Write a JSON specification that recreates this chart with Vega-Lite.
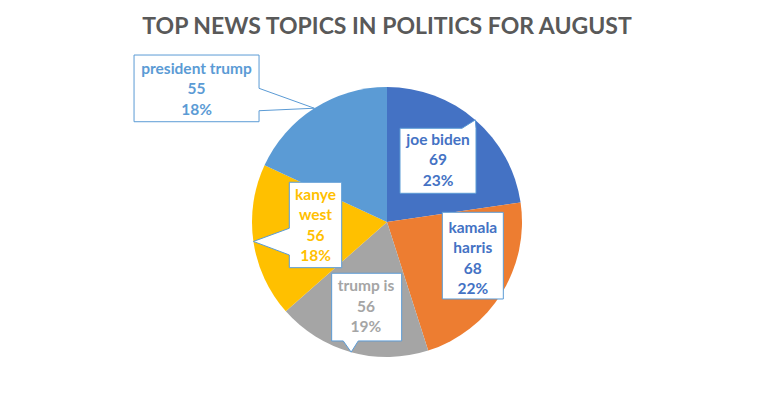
{
  "$schema": "https://vega.github.io/schema/vega-lite/v6.json",
  "width": 774,
  "height": 344,
  "autosize": "none",
  "padding": {"left": 0, "top": 50, "right": 0, "bottom": 1},
  "background": "white",
  "config": {"view": {"stroke": null}},
  "title": {
    "text": "TOP NEWS TOPICS IN POLITICS FOR AUGUST",
    "font": "Lato",
    "fontSize": 23,
    "fontWeight": "bold",
    "color": "#595959",
    "anchor": "middle",
    "frame": "group",
    "offset": 12,
    "dy": 15
  },
  "data": {
    "values": [
      {"topic": "joe biden", "label": "joe biden", "count": 69, "pct": 23, "rank": 1},
      {"topic": "kamala harris", "label": "kamala\nharris", "count": 68, "pct": 22, "rank": 2},
      {"topic": "trump is", "label": "trump is", "count": 56, "pct": 19, "rank": 3},
      {"topic": "kanye west", "label": "kanye\nwest", "count": 56, "pct": 18, "rank": 4},
      {"topic": "president trump", "label": "president trump", "count": 55, "pct": 18, "rank": 5}
    ]
  },
  "transform": [
    {"calculate": "datum.label + '\\n' + datum.count + '\\n' + datum.pct + '%'", "as": "txt"}
  ],
  "layer": [
    {
      "mark": {"type": "arc", "outerRadius": 135},
      "encoding": {
        "theta": {"field": "count", "type": "quantitative", "stack": true},
        "order": {"field": "rank", "type": "quantitative", "sort": "ascending"},
        "color": {
          "field": "topic",
          "type": "nominal",
          "scale": {
            "domain": ["joe biden", "kamala harris", "trump is", "kanye west", "president trump"],
            "range": ["#4472C4", "#ED7D31", "#A5A5A5", "#FFC000", "#5B9BD5"]
          },
          "legend": null
        }
      }
    },
    {
      "transform": [
        {"window": [{"op": "sum", "field": "count", "as": "cum"}], "sort": [{"field": "rank", "order": "ascending"}], "frame": [null, 0]},
        {"joinaggregate": [{"op": "sum", "field": "count", "as": "total"}]},
        {"calculate": "2 * PI * (datum.cum - datum.count / 2) / datum.total", "as": "ang"},
        {"calculate": "sin(datum.ang)", "as": "px"},
        {"calculate": "cos(datum.ang)", "as": "py"}
      ],
      "mark": {"type": "point", "filled": true, "fill": "white", "stroke": "#5B9BD5", "strokeWidth": 1, "opacity": 1, "size": 40000},
      "encoding": {
        "x": {"field": "px", "type": "quantitative", "scale": {"domain": [-2.866667, 2.866667], "nice": false, "zero": false}, "axis": null},
        "y": {"field": "py", "type": "quantitative", "scale": {"domain": [-1.274074, 1.274074], "nice": false, "zero": false}, "axis": null},
        "shape": {
          "field": "topic",
          "type": "nominal",
          "legend": null,
          "scale": {
            "domain": ["joe biden", "kamala harris", "trump is", "kanye west", "president trump"],
            "range": [
              "M-0.753,0.084H-0.133L0,0L0.007,0.084V0.734H-0.753Z",
              "M-0.592,-0.812H0.018V0.055H-0.592Z",
              "M-0.195,-0.789H0.505V-0.112H0.071L0,0L-0.079,-0.112H-0.195Z",
              "M0.359,-0.592H0.883V0.262H0.359V0.135L0,0L0.359,-0.132Z",
              "M-1.803,-0.532H-0.553V-0.199L0,0L-0.553,0.025V0.135H-1.803Z"
            ]
          }
        }
      }
    },
    {
      "mark": {"type": "text", "font": "Lato", "fontSize": 15.5, "fontWeight": "bold", "lineBreak": "\n", "lineHeight": 20.5, "align": "center", "baseline": "middle", "color": "#4472C4", "dx": -37.3, "dy": 20.1},
      "encoding": {
        "theta": {"field": "count", "type": "quantitative", "stack": true},
        "order": {"field": "rank", "type": "quantitative", "sort": "ascending"},
        "radius": {"value": 135},
        "text": {"condition": {"test": "datum.topic === 'joe biden'", "field": "txt"}, "value": ""}
      }
    },
    {
      "mark": {"type": "text", "font": "Lato", "fontSize": 15.5, "fontWeight": "bold", "lineBreak": "\n", "lineHeight": 20.5, "align": "center", "baseline": "middle", "color": "#4472C4", "dx": -28.7, "dy": -65.5},
      "encoding": {
        "theta": {"field": "count", "type": "quantitative", "stack": true},
        "order": {"field": "rank", "type": "quantitative", "sort": "ascending"},
        "radius": {"value": 135},
        "text": {"condition": {"test": "datum.topic === 'kamala harris'", "field": "txt"}, "value": ""}
      }
    },
    {
      "mark": {"type": "text", "font": "Lato", "fontSize": 15.5, "fontWeight": "bold", "lineBreak": "\n", "lineHeight": 20.5, "align": "center", "baseline": "middle", "color": "#A5A5A5", "dx": 14.8, "dy": -65.7},
      "encoding": {
        "theta": {"field": "count", "type": "quantitative", "stack": true},
        "order": {"field": "rank", "type": "quantitative", "sort": "ascending"},
        "radius": {"value": 135},
        "text": {"condition": {"test": "datum.topic === 'trump is'", "field": "txt"}, "value": ""}
      }
    },
    {
      "mark": {"type": "text", "font": "Lato", "fontSize": 15.5, "fontWeight": "bold", "lineBreak": "\n", "lineHeight": 20.5, "align": "center", "baseline": "middle", "color": "#FFC000", "dx": 62.1, "dy": -46.5},
      "encoding": {
        "theta": {"field": "count", "type": "quantitative", "stack": true},
        "order": {"field": "rank", "type": "quantitative", "sort": "ascending"},
        "radius": {"value": 135},
        "text": {"condition": {"test": "datum.topic === 'kanye west'", "field": "txt"}, "value": ""}
      }
    },
    {
      "mark": {"type": "text", "font": "Lato", "fontSize": 15.5, "fontWeight": "bold", "lineBreak": "\n", "lineHeight": 20.5, "align": "center", "baseline": "middle", "color": "#5B9BD5", "dx": -117.8, "dy": -39.7},
      "encoding": {
        "theta": {"field": "count", "type": "quantitative", "stack": true},
        "order": {"field": "rank", "type": "quantitative", "sort": "ascending"},
        "radius": {"value": 135},
        "text": {"condition": {"test": "datum.topic === 'president trump'", "field": "txt"}, "value": ""}
      }
    }
  ]
}
